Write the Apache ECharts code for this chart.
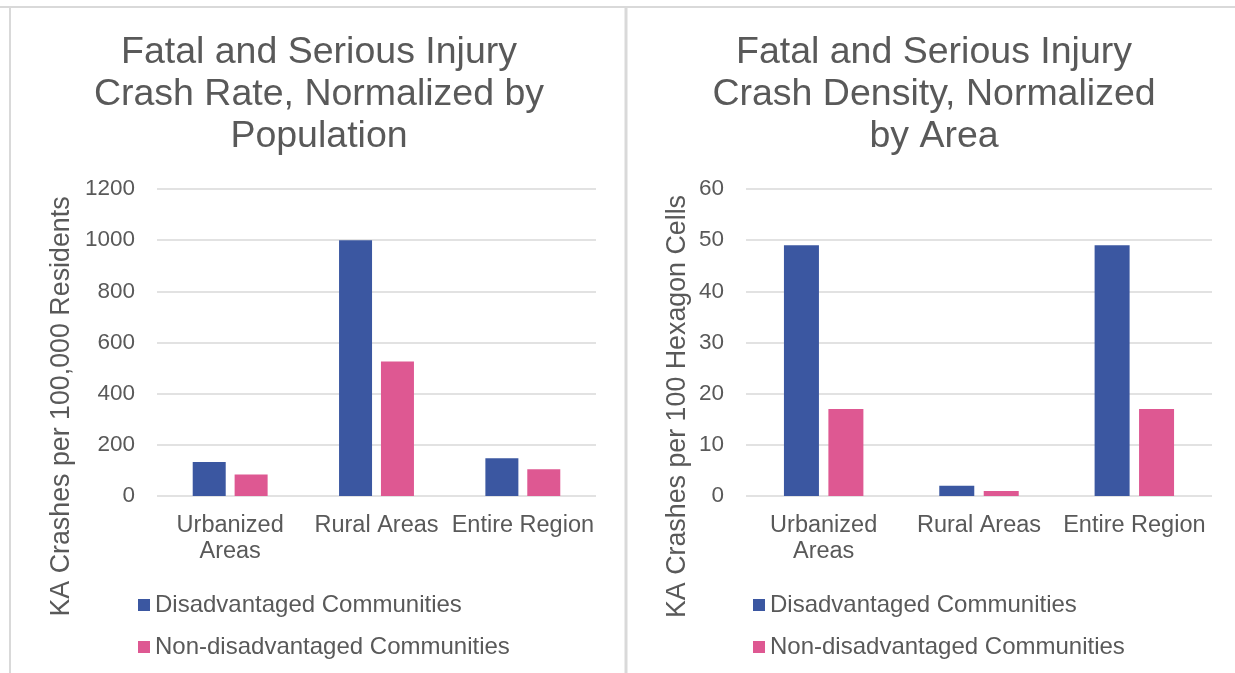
<!DOCTYPE html>
<html>
<head>
<meta charset="utf-8">
<script src="https://cdn.jsdelivr.net/npm/echarts@6/dist/echarts.min.js"></script>
<style>
html,body{margin:0;padding:0;background:#fff;}
#c{width:1235px;height:673px;}
</style>
</head>
<body>
<div id="c"></div>
<script>
const categories = ['Urbanized\nAreas', 'Rural Areas', 'Entire Region'];
const seriesNames = ['Disadvantaged Communities', 'Non-disadvantaged Communities'];
const rateDisadv = [133, 1000, 148];
const rateNonDisadv = [84, 526, 105];
const densDisadv = [49, 2, 49];
const densNonDisadv = [17, 1, 17];
const rateTicks = { min: 0, max: 1200, interval: 200 };
const densTicks = { min: 0, max: 60, interval: 10 };
const titles = [
  'Fatal and Serious Injury\nCrash Rate, Normalized by\nPopulation',
  'Fatal and Serious Injury\nCrash Density, Normalized\nby Area'
];
const axisTitles = ['KA Crashes per 100,000 Residents', 'KA Crashes per 100 Hexagon Cells'];

const BLUE = '#3B57A1';
const PINK = '#DE5892';
const TXT = '#595959';
const GRID = '#D9D9D9';
const FONT = 'Liberation Sans, Arial, sans-serif';

const chart = echarts.init(document.getElementById('c'), null, { renderer: 'canvas' });

function xAxis(gi) {
  return {
    type: 'category', gridIndex: gi, data: categories,
    axisLine: { show: false }, axisTick: { show: false },
    axisLabel: { color: TXT, fontSize: 23.5, fontFamily: FONT, margin: 17, lineHeight: 26, interval: 0 }
  };
}
function yAxis(gi, t, name, gap) {
  return {
    type: 'value', gridIndex: gi, min: t.min, max: t.max, interval: t.interval,
    name: name, nameLocation: 'middle', nameGap: gap, nameRotate: 90,
    nameTextStyle: { color: TXT, fontSize: 26.8, fontFamily: FONT, padding: [0, 128, 0, 0] },
    axisLine: { show: false }, axisTick: { show: false },
    axisLabel: { color: TXT, fontSize: 22.5, fontFamily: FONT, margin: 22, formatter: function (v) { return String(v); } },
    splitLine: { lineStyle: { color: GRID, width: 1.5 } }
  };
}
function bar(name, data, gi, color, width) {
  return {
    name: name, type: 'bar', xAxisIndex: gi, yAxisIndex: gi, data: data,
    barWidth: width, barGap: '27%',
    itemStyle: { color: color }
  };
}

chart.setOption({
  animation: false,
  backgroundColor: '#fff',
  textStyle: { fontFamily: FONT },
  title: [
    { text: titles[0], left: 314, top: 27, textAlign: 'center',
      textStyle: { color: TXT, fontSize: 37.5, fontWeight: 'normal', lineHeight: 42, fontFamily: FONT } },
    { text: titles[1], left: 929, top: 27, textAlign: 'center',
      textStyle: { color: TXT, fontSize: 37.5, fontWeight: 'normal', lineHeight: 42, fontFamily: FONT } }
  ],
  grid: [
    { left: 157, right: 639, top: 189, bottom: 177, containLabel: false },
    { left: 746, right: 23, top: 189, bottom: 177, containLabel: false }
  ],
  legend: [
    { orient: 'vertical', left: 133, top: 588, itemWidth: 12, itemHeight: 12, itemGap: 18, icon: 'rect',
      data: seriesNames, textStyle: { color: TXT, fontSize: 24, fontFamily: FONT } },
    { orient: 'vertical', left: 748, top: 588, itemWidth: 12, itemHeight: 12, itemGap: 18, icon: 'rect',
      data: seriesNames, textStyle: { color: TXT, fontSize: 24, fontFamily: FONT } }
  ],
  xAxis: [xAxis(0), xAxis(1)],
  yAxis: [yAxis(0, rateTicks, axisTitles[0], 82), yAxis(1, densTicks, axisTitles[1], 55)],
  series: [
    bar(seriesNames[0], rateDisadv, 0, BLUE, 33),
    bar(seriesNames[1], rateNonDisadv, 0, PINK, 33),
    bar(seriesNames[0], densDisadv, 1, BLUE, 35),
    bar(seriesNames[1], densNonDisadv, 1, PINK, 35)
  ],
  graphic: [
    { type: 'line', shape: { x1: 0, y1: 7, x2: 1235, y2: 7 }, style: { stroke: '#D9D9D9', lineWidth: 2 }, silent: true },
    { type: 'line', shape: { x1: 10, y1: 7, x2: 10, y2: 673 }, style: { stroke: '#D9D9D9', lineWidth: 2 }, silent: true },
    { type: 'line', shape: { x1: 626, y1: 7, x2: 626, y2: 673 }, style: { stroke: '#D9D9D9', lineWidth: 3 }, silent: true }
  ]
});
</script>
</body>
</html>
